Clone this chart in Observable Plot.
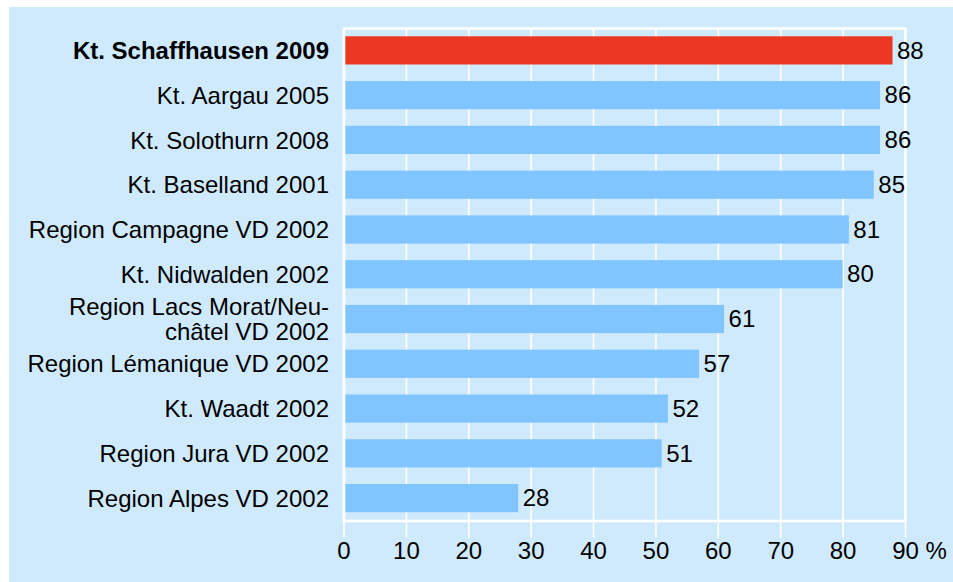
<!DOCTYPE html>
<html>
<head>
<meta charset="utf-8">
<script src="https://cdn.jsdelivr.net/npm/d3@7"></script>
<script src="https://cdn.jsdelivr.net/npm/@observablehq/plot@0.6"></script>
<style>
  html, body { margin: 0; padding: 0; background: #ffffff; }
  #chart { position: absolute; left: 9px; top: 7px; }
  #chart svg { display: block; }
</style>
</head>
<body>
<div id="chart"></div>
<script>
const categories = [
  "Kt. Schaffhausen 2009",
  "Kt. Aargau 2005",
  "Kt. Solothurn 2008",
  "Kt. Baselland 2001",
  "Region Campagne VD 2002",
  "Kt. Nidwalden 2002",
  "Region Lacs Morat/Neu-\nchâtel VD 2002",
  "Region Lémanique VD 2002",
  "Kt. Waadt 2002",
  "Region Jura VD 2002",
  "Region Alpes VD 2002"
];
const values = [88, 86, 86, 85, 81, 80, 61, 57, 52, 51, 28];
const highlighted = ["Kt. Schaffhausen 2009"];
const tickValues = [0, 10, 20, 30, 40, 50, 60, 70, 80, 90];
const tickLabels = ["0", "10", "20", "30", "40", "50", "60", "70", "80", "90"];
const unitLabel = "%";

const data = categories.map((c, i) => ({label: c, value: values[i], hl: highlighted.includes(c)}));
const ticks = tickValues.map((v, i) => ({v, t: tickLabels[i]}));

const RED = "#ec3823";
const BLUE = "#80c5ff";

const chart = Plot.plot({
  width: 944,
  height: 575,
  marginLeft: 334.5,
  marginRight: 48,
  marginTop: 21,
  marginBottom: 61.5,
  x: {domain: [0, 90], axis: null},
  y: {domain: categories, axis: null, paddingInner: 0.37, paddingOuter: 0.185, round: false},
  style: {
    background: "#d0eafd",
    fontFamily: "'Liberation Sans', Arial, Helvetica, sans-serif",
    fontSize: "24px",
    color: "#000"
  },
  marks: [
    Plot.ruleX(tickValues, {x: d => d, stroke: "#ffffff", strokeWidth: 1.6, insetBottom: -17}),
    Plot.barX(data, {filter: d => !d.hl, x: "value", y: "label", fill: BLUE}),
    Plot.barX(data, {filter: d => d.hl, x: "value", y: "label", fill: RED}),
    Plot.frame({stroke: "#ffffff", strokeWidth: 2.6}),
    Plot.text(data, {filter: d => !d.hl, y: "label", text: "label", frameAnchor: "left", textAnchor: "end", dx: -15, lineHeight: 1.05, fill: "#000"}),
    Plot.text(data, {filter: d => d.hl, y: "label", text: "label", frameAnchor: "left", textAnchor: "end", dx: -15, fontWeight: "bold", fill: "#000"}),
    Plot.text(data, {x: "value", y: "label", text: d => String(d.value), textAnchor: "start", dx: 4, fill: "#000"}),
    Plot.text(ticks, {x: "v", text: "t", frameAnchor: "bottom", textAnchor: "middle", dy: 38, fill: "#000"}),
    Plot.text([unitLabel], {x: () => 90, text: d => d, frameAnchor: "bottom", textAnchor: "start", dx: 20, dy: 38, fill: "#000"})
  ]
});
document.getElementById("chart").appendChild(chart);
</script>
</body>
</html>
